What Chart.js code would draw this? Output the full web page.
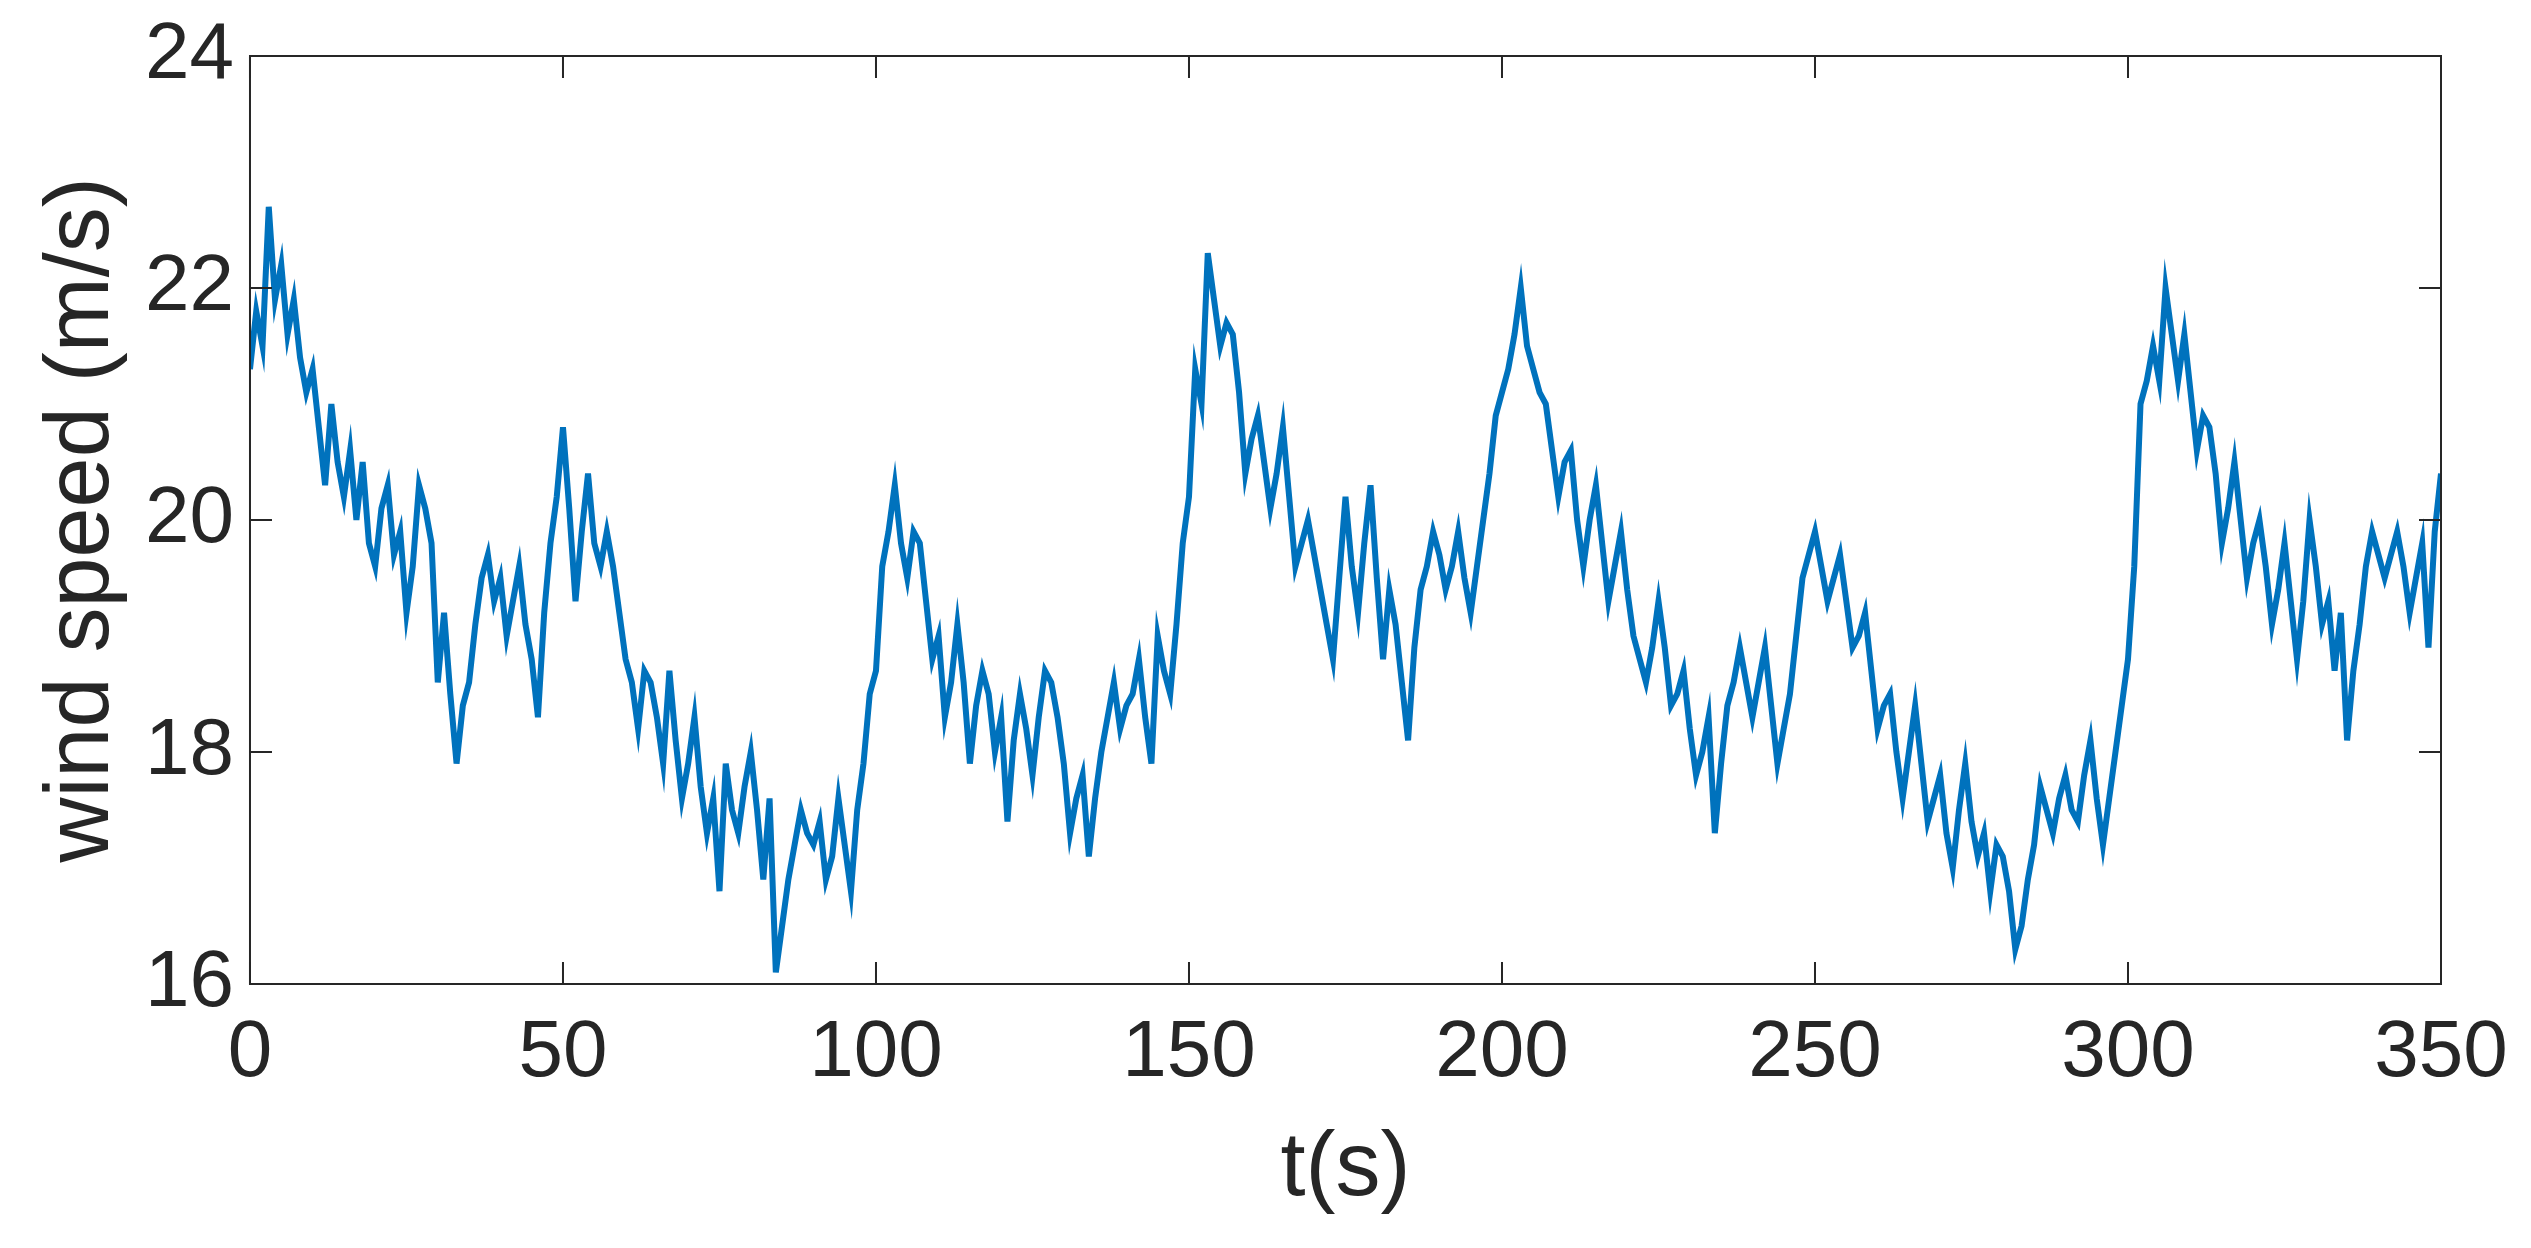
<!DOCTYPE html>
<html><head><meta charset="utf-8">
<script src="https://cdn.jsdelivr.net/npm/chart.js@4/dist/chart.umd.min.js"></script>
<style>html,body{margin:0;padding:0;background:#fff}#w{width:2531px;height:1248px}</style>
</head><body><div id="w"><canvas id="c"></canvas></div>
<script>
const times = [0,1,2,3,4,5,6,7,8,9,10,11,12,13,14,15,16,17,18,19,20,21,22,23,24,25,26,27,28,29,30,31,32,33,34,35,36,37,38,39,40,41,42,43,44,45,46,47,48,49,50,51,52,53,54,55,56,57,58,59,60,61,62,63,64,65,66,67,68,69,70,71,72,73,74,75,76,77,78,79,80,81,82,83,84,85,86,87,88,89,90,91,92,93,94,95,96,97,98,99,100,101,102,103,104,105,106,107,108,109,110,111,112,113,114,115,116,117,118,119,120,121,122,123,124,125,126,127,128,129,130,131,132,133,134,135,136,137,138,139,140,141,142,143,144,145,146,147,148,149,150,151,152,153,154,155,156,157,158,159,160,161,162,163,164,165,166,167,168,169,170,171,172,173,174,175,176,177,178,179,180,181,182,183,184,185,186,187,188,189,190,191,192,193,194,195,196,197,198,199,200,201,202,203,204,205,206,207,208,209,210,211,212,213,214,215,216,217,218,219,220,221,222,223,224,225,226,227,228,229,230,231,232,233,234,235,236,237,238,239,240,241,242,243,244,245,246,247,248,249,250,251,252,253,254,255,256,257,258,259,260,261,262,263,264,265,266,267,268,269,270,271,272,273,274,275,276,277,278,279,280,281,282,283,284,285,286,287,288,289,290,291,292,293,294,295,296,297,298,299,300,301,302,303,304,305,306,307,308,309,310,311,312,313,314,315,316,317,318,319,320,321,322,323,324,325,326,327,328,329,330,331,332,333,334,335,336,337,338,339,340,341,342,343,344,345,346,347,348,349,350];
const speeds = [21.3,21.8,21.5,22.7,21.9,22.2,21.6,21.9,21.4,21.1,21.3,20.8,20.3,21.0,20.5,20.2,20.6,20.0,20.5,19.8,19.6,20.1,20.3,19.7,19.9,19.2,19.6,20.3,20.1,19.8,18.6,19.2,18.5,17.9,18.4,18.6,19.1,19.5,19.7,19.3,19.5,19.0,19.3,19.6,19.1,18.8,18.3,19.2,19.8,20.2,20.8,20.1,19.3,19.9,20.4,19.8,19.6,19.9,19.6,19.2,18.8,18.6,18.2,18.7,18.6,18.3,17.9,18.7,18.1,17.6,17.9,18.3,17.7,17.3,17.6,16.8,17.9,17.5,17.3,17.7,18.0,17.5,16.9,17.6,16.1,16.5,16.9,17.2,17.5,17.3,17.2,17.4,16.9,17.1,17.6,17.2,16.8,17.5,17.9,18.5,18.7,19.6,19.9,20.3,19.8,19.5,19.9,19.8,19.3,18.8,19.0,18.3,18.6,19.1,18.6,17.9,18.4,18.7,18.5,18.0,18.3,17.4,18.1,18.5,18.2,17.8,18.3,18.7,18.6,18.3,17.9,17.3,17.6,17.8,17.1,17.6,18.0,18.3,18.6,18.2,18.4,18.5,18.8,18.3,17.9,19.0,18.7,18.5,19.1,19.8,20.2,21.3,21.0,22.3,21.9,21.5,21.7,21.6,21.1,20.4,20.7,20.9,20.5,20.1,20.4,20.8,20.2,19.6,19.8,20.0,19.7,19.4,19.1,18.8,19.5,20.2,19.6,19.2,19.8,20.3,19.5,18.8,19.4,19.1,18.6,18.1,18.9,19.4,19.6,19.9,19.7,19.4,19.6,19.9,19.5,19.2,19.6,20.0,20.4,20.9,21.1,21.3,21.6,22.0,21.5,21.3,21.1,21.0,20.6,20.2,20.5,20.6,20.0,19.6,20.0,20.3,19.8,19.3,19.6,19.9,19.4,19.0,18.8,18.6,18.9,19.3,18.9,18.4,18.5,18.7,18.2,17.8,18.0,18.3,17.3,17.9,18.4,18.6,18.9,18.6,18.3,18.6,18.9,18.4,17.9,18.2,18.5,19.0,19.5,19.7,19.9,19.6,19.3,19.5,19.7,19.3,18.9,19.0,19.2,18.7,18.2,18.4,18.5,18.0,17.6,18.0,18.4,17.9,17.4,17.6,17.8,17.3,17.0,17.5,17.9,17.4,17.1,17.3,16.8,17.2,17.1,16.8,16.3,16.5,16.9,17.2,17.7,17.5,17.3,17.6,17.8,17.5,17.4,17.8,18.1,17.6,17.2,17.6,18.0,18.4,18.8,19.6,21.0,21.2,21.5,21.2,22.0,21.6,21.2,21.6,21.1,20.6,20.9,20.8,20.4,19.8,20.1,20.5,20.0,19.5,19.8,20.0,19.6,19.1,19.4,19.8,19.3,18.8,19.3,20.0,19.6,19.1,19.3,18.7,19.2,18.1,18.7,19.1,19.6,19.9,19.7,19.5,19.7,19.9,19.6,19.2,19.5,19.8,18.9,19.9,20.4,21.0,21.4];
const xTicks=[0,50,100,150,200,250,300,350];
const yTicks=[16,18,20,22,24];
const F='"Liberation Sans", Arial, sans-serif';
const boxPlugin={id:'box',afterDraw(ch){const a=ch.chartArea,c=ch.ctx;c.save();c.strokeStyle='#262626';c.lineWidth=2;c.strokeRect(a.left,a.top,a.right-a.left,a.bottom-a.top);
const L=22;c.beginPath();xTicks.forEach(v=>{const x=ch.scales.x.getPixelForValue(v);c.moveTo(x,a.bottom);c.lineTo(x,a.bottom-L);c.moveTo(x,a.top);c.lineTo(x,a.top+L);});
yTicks.forEach(v=>{const y=ch.scales.y.getPixelForValue(v);c.moveTo(a.left,y);c.lineTo(a.left+L,y);c.moveTo(a.right,y);c.lineTo(a.right-L,y);});c.stroke();c.restore();}};
new Chart(document.getElementById('c'),{type:'line',
data:{datasets:[{data:times.map((t,i)=>({x:t,y:speeds[i]})),borderColor:'#0072BD',borderWidth:6,pointRadius:0,tension:0}]},
options:{responsive:true,maintainAspectRatio:false,animation:false,
layout:{padding:{left:25,right:90,top:52,bottom:20}},
plugins:{legend:{display:false},tooltip:{enabled:false}},
scales:{x:{type:'linear',min:0,max:350,afterBuildTicks:s=>{s.ticks=xTicks.map(v=>({value:v}));},
grid:{display:false},border:{display:false},ticks:{color:'#262626',font:{family:F,size:80},padding:14,maxRotation:0},
title:{display:true,text:'t(s)',color:'#262626',font:{family:F,size:90},padding:{top:0}}},
y:{min:16,max:24,afterBuildTicks:s=>{s.ticks=yTicks.map(v=>({value:v}));},
grid:{display:false},border:{display:false},ticks:{color:'#262626',font:{family:F,size:80},padding:8},
title:{display:true,text:'wind speed (m/s)',color:'#262626',font:{family:F,size:90},padding:{bottom:0}}}}},
plugins:[boxPlugin]});
</script></body></html>
